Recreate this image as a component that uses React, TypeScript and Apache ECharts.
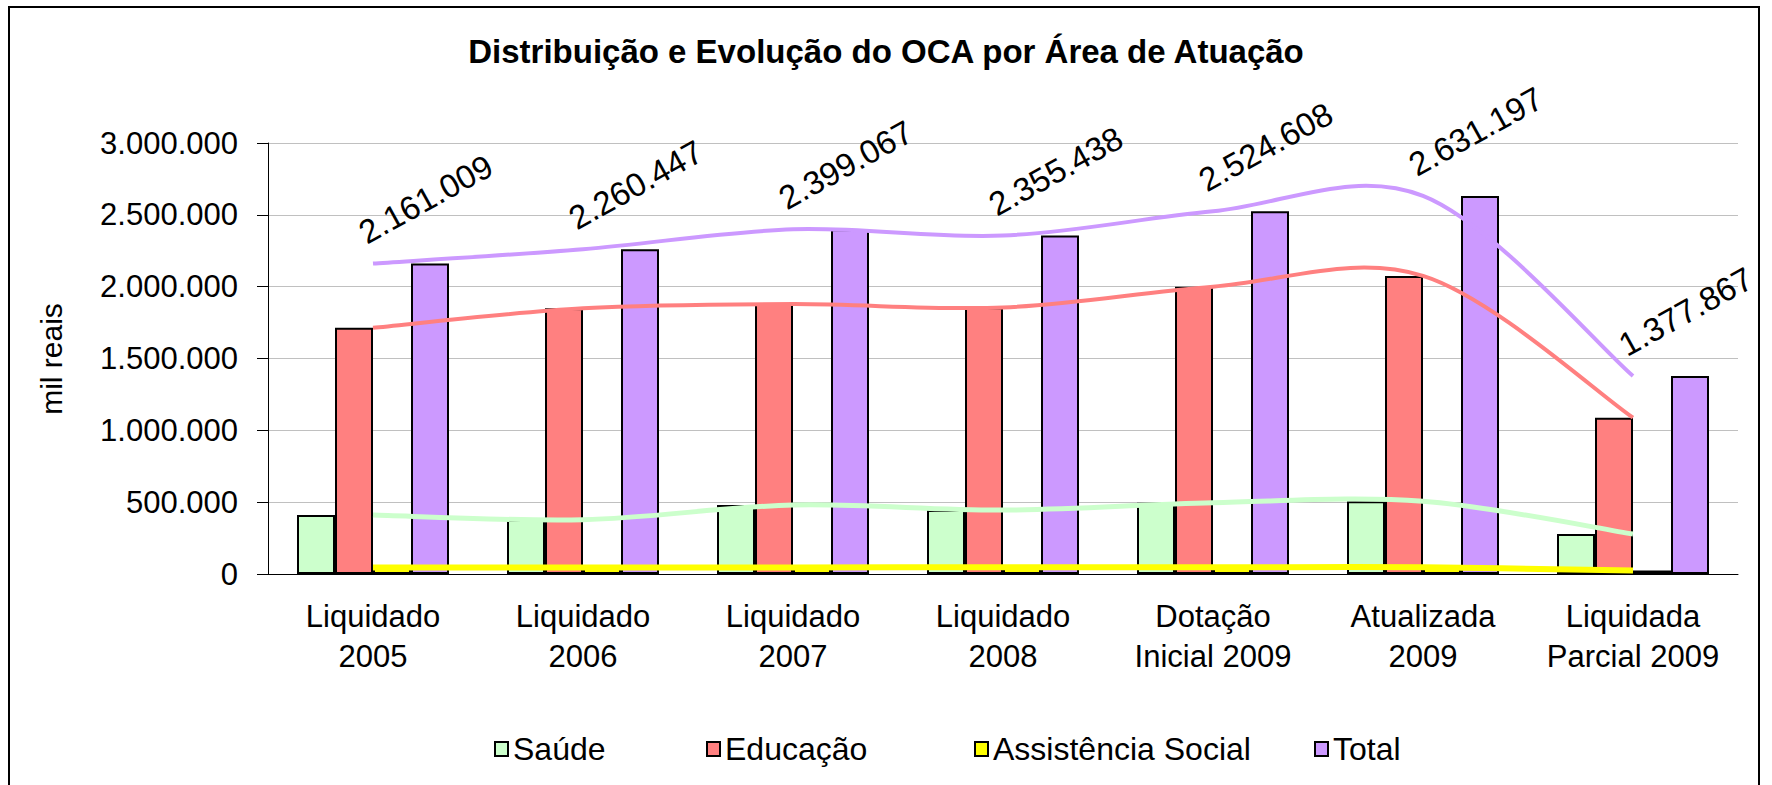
import React, { useEffect, useRef } from 'react';
import * as echarts from 'echarts';

const categories = [
  'Liquidado\n2005',
  'Liquidado\n2006',
  'Liquidado\n2007',
  'Liquidado\n2008',
  'Dotação\nInicial 2009',
  'Atualizada\n2009',
  'Liquidada\nParcial 2009',
];
const seriesNames = ['Saúde', 'Educação', 'Assistência Social', 'Total'];
const saude = [410000, 378000, 480000, 445000, 496000, 506000, 278000];
const educacao = [1714000, 1849000, 1879000, 1855000, 2000000, 2075000, 1088000];
const assistencia = [45000, 46000, 46000, 47000, 47000, 47000, 24000];
const total = [2161009, 2260447, 2399067, 2355438, 2524608, 2631197, 1377867];
const yMin = 0;
const yMax = 3000000;
const yInterval = 500000;

const colors = ['#CCFFCC', '#FF8080', '#FFFF00', '#CC99FF'];
const FONT = "'Liberation Sans', Arial, sans-serif";

const fmt = (v: number) => String(Math.round(v)).replace(/\B(?=(\d{3})+(?!\d))/g, '.');

export default function App() {
  const ref = useRef<HTMLDivElement>(null);
  useEffect(() => {
    document.body.style.margin = '0';
    const chart = echarts.init(ref.current!, null, { renderer: 'svg' });
    const values = [saude, educacao, assistencia, total];
    const bars = seriesNames.map((name, i) => ({
      type: 'bar',
      name,
      data: values[i],
      barWidth: 38,
      barGap: '0%',
      itemStyle: { color: colors[i], borderColor: '#000', borderWidth: 2 },
      z: 2,
    }));
    const lineWidths = [5, 4, 6, 4];
    // Smoothed curves (Catmull-Rom style, as in the spreadsheet chart)
    const curves = seriesNames.map((name, s) => {
      const arr = values[s];
      return {
        type: 'custom',
        name: name + ' (curva)',
        coordinateSystem: 'cartesian2d',
        data: arr.map((v, i) => [i, v]),
        encode: { x: 0, y: 1 },
        z: 5 + s,
        silent: true,
        renderItem: (params: any, api: any) => {
          if (params.dataIndex !== 0) return null;
          const n = arr.length;
          const pt = (k: number) => {
            const c = Math.max(0, Math.min(n - 1, k));
            return api.coord([c, arr[c]]);
          };
          let d = '';
          const p0 = pt(0);
          d += `M${p0[0]},${p0[1]}`;
          for (let i = 0; i < n - 1; i++) {
            const a = pt(i - 1);
            const b = pt(i);
            const c = pt(i + 1);
            const e = pt(i + 2);
            const c1x = b[0] + (c[0] - a[0]) / 6;
            const c1y = b[1] + (c[1] - a[1]) / 6;
            const c2x = c[0] - (e[0] - b[0]) / 6;
            const c2y = c[1] - (e[1] - b[1]) / 6;
            d += ` C${c1x},${c1y} ${c2x},${c2y} ${c[0]},${c[1]}`;
          }
          return {
            type: 'path',
            shape: { pathData: d },
            style: { stroke: colors[s], lineWidth: lineWidths[s], fill: 'none', lineJoin: 'round' },
          };
        },
      };
    });
    const totalLabels = {
      type: 'line',
      name: 'Total (rótulos)',
      data: total,
      symbol: 'circle',
      symbolSize: 1,
      itemStyle: { color: 'rgba(0,0,0,0)' },
      lineStyle: { width: 0, opacity: 0 },
      z: 10,
      silent: true,
      label: {
        show: true,
        formatter: (p: any) => fmt(p.value),
        rotate: 29,
        position: [-3, -14],
        align: 'left',
        verticalAlign: 'bottom',
        fontSize: 33,
        fontFamily: FONT,
        color: '#000',
      },
    };
    const legendLefts = [494, 706, 974, 1314];
    const legends = seriesNames.map((name, i) => ({
      data: [name],
      left: legendLefts[i],
      top: 733,
      padding: 0,
      itemWidth: 13,
      itemHeight: 14,
      itemGap: 0,
      icon: 'rect',
      selectedMode: false,
      itemStyle: { borderColor: '#000', borderWidth: 2 },
      textStyle: { fontSize: 32, color: '#000', fontFamily: FONT },
    }));
    chart.setOption({
      animation: false,
      backgroundColor: '#ffffff',
      textStyle: { fontFamily: FONT, color: '#000' },
      title: {
        text: 'Distribuição e Evolução do OCA por Área de Atuação',
        left: 'center',
        top: 30,
        textStyle: { fontSize: 33, fontWeight: 'bold', color: '#000', fontFamily: FONT },
      },
      grid: { left: 268, right: 34, top: 143, bottom: 211 },
      xAxis: {
        type: 'category',
        data: categories,
        axisLine: { lineStyle: { color: '#000', width: 1 } },
        axisTick: { length: 9, lineStyle: { color: '#000' } },
        axisLabel: { fontSize: 31, lineHeight: 40, color: '#000', margin: 22, interval: 0, fontFamily: FONT },
      },
      yAxis: {
        type: 'value',
        min: yMin,
        max: yMax,
        interval: yInterval,
        axisLine: { show: true, lineStyle: { color: '#000' } },
        axisTick: { show: true, length: 11, lineStyle: { color: '#000' } },
        axisLabel: { fontSize: 31, color: '#000', margin: 30, formatter: fmt, fontFamily: FONT },
        splitLine: { lineStyle: { color: '#c0c0c0', width: 1 } },
      },
      legend: legends,
      graphic: [
        {
          type: 'rect',
          silent: true,
          z: -1,
          shape: { x: 9, y: 7, width: 1750, height: 800 },
          style: { fill: 'none', stroke: '#000', lineWidth: 2 },
        },
        {
          type: 'text',
          x: 51,
          y: 359,
          rotation: Math.PI / 2,
          style: {
            text: 'mil reais',
            fontSize: 30,
            fontFamily: FONT,
            fill: '#000',
            align: 'center',
            verticalAlign: 'middle',
          },
        },
      ],
      series: [...bars, ...curves, totalLabels],
    });
    return () => chart.dispose();
  }, []);
  return <div ref={ref} style={{ width: 1772, height: 785 }} />;
}
